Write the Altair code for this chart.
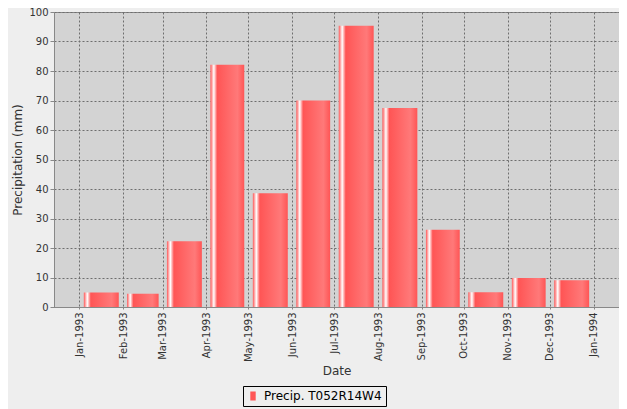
import altair as alt
import pandas as pd

# ---- data ----
months = ["1993-01", "1993-02", "1993-03", "1993-04", "1993-05", "1993-06",
          "1993-07", "1993-08", "1993-09", "1993-10", "1993-11", "1993-12"]
precip = [4.9, 4.5, 22.3, 82.1, 38.6, 70.0, 95.3, 67.5, 26.2, 5.0, 9.8, 9.1]
series_name = "Precip. T052R14W4"
tick_months = ["1993-01", "1993-02", "1993-03", "1993-04", "1993-05", "1993-06",
               "1993-07", "1993-08", "1993-09", "1993-10", "1993-11", "1993-12",
               "1994-01"]
y_ticks = [0, 10, 20, 30, 40, 50, 60, 70, 80, 90, 100]

# bars occupy the middle 80% of each month period
start = pd.to_datetime(months)
nxt = start + pd.offsets.MonthBegin(1)
span = nxt - start
df = pd.DataFrame({
    "start": start + span * 0.1,
    "end": nxt - span * 0.1,
    "precip": precip,
    "series": [series_name] * len(precip),
})

tick_values = [alt.DateTime(year=int(m[:4]), month=int(m[5:]), date=1) for m in tick_months]
x_domain = [alt.DateTime(year=1992, month=12, date=13, hours=22),
            alt.DateTime(year=1994, month=1, date=19, hours=2)]

FONT = "DejaVu Sans"
AXIS_GRAY = "#888888"
GRID = "#6e6e6e"
TOP = 4

grad = alt.LinearGradient(
    gradient="linear",
    stops=[
        alt.GradientStop(color="#ff5555", offset=0.0),
        alt.GradientStop(color="#ffffff", offset=0.1),
        alt.GradientStop(color="#ff5555", offset=0.2),
        alt.GradientStop(color="#ff7979", offset=0.8),
        alt.GradientStop(color="#ff5555", offset=1.0),
    ],
    x1=0, x2=1, y1=0, y2=0,
)

x_enc = alt.X(
    "start:T",
    title="Date",
    scale=alt.Scale(domain=x_domain, nice=False),
    axis=alt.Axis(
        values=tick_values, format="%b-%Y", labelAngle=270,
        labelAlign="right", labelBaseline="middle",
        grid=True, gridDash=[2, 2], gridColor=GRID, gridWidth=1,
        tickSize=2, tickColor=AXIS_GRAY, domainColor=AXIS_GRAY,
        labelPadding=3, titlePadding=4, labelOverlap=False, labelFlush=False,
        labelFontSize=10, titleFontSize=12, labelColor="#333333",
        titleColor="#333333", titleFontWeight="normal", labelFont=FONT, titleFont=FONT,
    ),
)
y_enc = alt.Y(
    "precip:Q",
    title="Precipitation (mm)",
    scale=alt.Scale(domain=[0, 100], nice=False, zero=True),
    axis=alt.Axis(
        values=y_ticks, grid=True, gridDash=[2, 2], gridColor=GRID, gridWidth=1,
        tickSize=4, tickColor=AXIS_GRAY, domainColor=AXIS_GRAY,
        labelPadding=2, titlePadding=4, labelFontSize=10, titleFontSize=12,
        labelOverlap=False, labelFlush=False,
        labelColor="#333333", titleColor="#333333", titleFontWeight="normal",
        labelFont=FONT, titleFont=FONT,
    ),
)

base = alt.Chart(df).encode(x=x_enc, x2="end:T", y=y_enc, y2=alt.datum(0))

bars = base.mark_bar(color=grad, cornerRadius=0)

legend_layer = base.mark_bar(opacity=0).encode(
    color=alt.Color(
        "series:N",
        scale=alt.Scale(domain=[series_name], range=["#ff5555"]),
        legend=alt.Legend(
            title=None, orient="none", legendX=189, legendY=378 - TOP,
            symbolType="M-0.6,-1H0.6V1H-0.6Z", symbolSize=81,
            symbolOpacity=1, symbolStrokeWidth=0, symbolFillColor="#ff5555",
            labelFontSize=12, labelFont=FONT, labelColor="#000000", labelOffset=5,
            strokeColor="#000000", padding=4, fillColor="#eeeeee", cornerRadius=0,
        ),
    ),
)

chart = alt.layer(bars, legend_layer).properties(
    width=565,
    height=299 - TOP,
    padding={"left": 46, "top": TOP, "right": 0, "bottom": 102},
    autosize=alt.AutoSizeParams(type="none"),
    background="#eeeeee",
    view=alt.ViewBackground(fill="#d3d3d3", stroke=AXIS_GRAY, strokeWidth=1),
).configure(font=FONT)

chart.save("out.html", embed_options={"renderer": "svg", "actions": False})
